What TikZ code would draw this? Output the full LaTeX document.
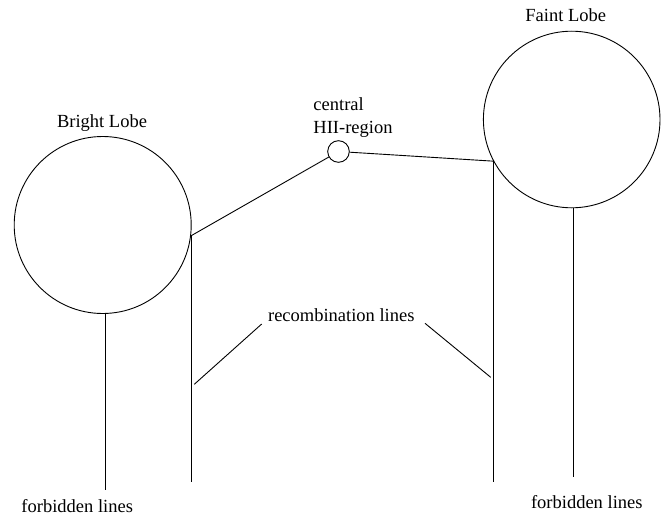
\documentclass[tikz,border=0pt]{standalone}
\usepackage{fontspec}
\setmainfont{Liberation Serif}
\begin{document}
\begin{tikzpicture}[x=1pt,y=-1pt,line width=0.9pt,
  lobe/.style={draw,circle,inner sep=0pt},
  lbl/.style={font=\fontsize{18.5}{22.6}\selectfont,inner sep=0pt,anchor=base}]
\useasboundingbox (0,0) rectangle (669,519);

% the two lobes and the central HII region
\node[lobe,minimum size=177pt] (bright) at (102.7,225) {};
\node[lobe,minimum size=176.6pt] (faint) at (571.7,119.5) {};
\node[lobe,minimum size=21.6pt] (hii) at (338.5,151.5) {};

% labels
\node[lbl] (brightlbl) at (102,127) {Bright Lobe};
\node[lbl] (faintlbl) at (565.7,21.7) {Faint Lobe};
\node[lbl,anchor=base west] (hiilbla) at (313,110.7) {central};
\node[lbl,anchor=base west] (hiilblb) at (313,133.3) {HII-region};
\node[lbl] (recomb) at (341.3,321.7) {recombination lines};
\node[lbl] (forbl) at (77.2,512.7) {forbidden lines};
\node[lbl] (forbr) at (586.8,508) {forbidden lines};

% junctions on the lobes
\coordinate (bj) at (bright.-7);
\coordinate (fj) at (faint.208);
\coordinate (bs) at (bright.-88.3);
\coordinate (fs) at (faint.-89.5);

% lower ends of the sight lines
\coordinate (bjend) at (bj |- 0,482);
\coordinate (fjend) at (fj |- 0,481.7);
\coordinate (bsend) at (bs |- 0,490);
\coordinate (fsend) at (fs |- 0,477.3);

% jet from the central region to both lobes
\draw (hii) -- (bj);
\draw (hii) -- (fj);

% sight lines
\draw (bj) -- (bjend);
\draw (fj) -- (fjend);
\draw (bs) -- (bsend);
\draw (fs) -- (fsend);

% pointers from the recombination label
\coordinate (pla) at (261.7,324);
\coordinate (plb) at (194.3,384.3);
\coordinate (pra) at (425,323.3);
\coordinate (prb) at (490.7,377.3);
\draw (pla) -- (plb);
\draw (pra) -- (prb);
\end{tikzpicture}
\end{document}
